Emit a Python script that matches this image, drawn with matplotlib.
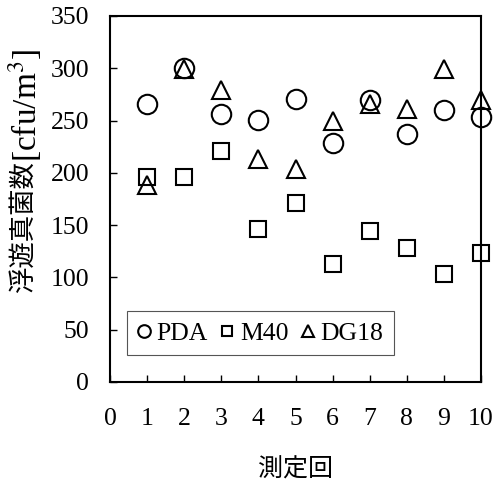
import matplotlib
matplotlib.use("Agg")
import matplotlib.pyplot as plt

plt.rcParams['font.family'] = ['Liberation Serif', 'Noto Sans CJK JP']
plt.rcParams['mathtext.fontset'] = 'stix'

runs = [1, 2, 3, 4, 5, 6, 7, 8, 9, 10]
pda = [266, 300, 256, 251, 271, 229, 270, 237, 260, 253]
m40 = [196, 196, 221, 146, 171, 113, 144, 128, 103, 123]
dg18 = [188, 299, 279, 213, 204, 250, 266, 261, 299, 270]
xticks = list(range(0, 11))
yticks = list(range(0, 351, 50))
ylabel_jp = '浮遊真菌数'
ylabel_unit = '[cfu/m$^{3}$]'

W, H = 494, 484
fig = plt.figure(figsize=(W/100, H/100), dpi=100)
ax = fig.add_axes([110/W, 1-382/H, (481-110)/W, (382-16)/H])

mk = dict(linestyle='none', markerfacecolor='none', markeredgecolor='black',
          markeredgewidth=1.5, clip_on=False)
ax.plot(runs, pda, marker='o', markersize=14, label='PDA', **mk)
ax.plot(runs, m40, marker='s', markersize=11, label='M40', **mk)
ax.plot(runs, dg18, marker='^', markersize=12.5, label='DG18', **mk)

ax.set_xlim(0, 10)
ax.set_ylim(0, 350)
ax.set_xticks(xticks)
ax.set_yticks(yticks)
ax.tick_params(direction='in', length=5, width=1, labelsize=18.5)
ax.tick_params(axis='x', pad=19)
ax.tick_params(axis='y', pad=15)
for s in ax.spines.values():
    s.set_linewidth(1.5)

ax.set_xlabel('測定回', fontsize=18, labelpad=20)

# y label: Japanese part and unit part (unit drawn larger, as in the reference)
fig.text(23/W, 1-293/H, ylabel_jp, rotation=90, ha='center', va='bottom',
         fontsize=19, family=['Noto Sans CJK JP'])
fig.text(25/W, 1-162/H, ylabel_unit, rotation=90, ha='center', va='bottom',
         fontsize=24)

leg = ax.legend(loc='lower left', bbox_to_anchor=(0.046, 0.074), ncol=3,
                fontsize=18.5, markerscale=0.65, handlelength=0.5,
                handletextpad=0.25, columnspacing=0.5, borderpad=0.4,
                fancybox=False, framealpha=1, borderaxespad=0)
leg.get_frame().set_edgecolor('#555555')
leg.get_frame().set_linewidth(0.8)

fig.savefig('out.png', dpi=100)
